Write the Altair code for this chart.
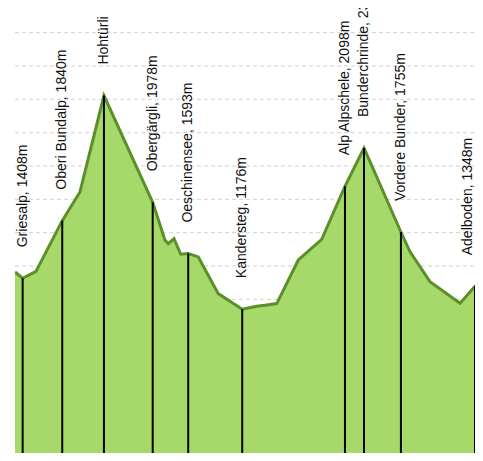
import altair as alt
import pandas as pd

# Elevation profile (distance in km, elevation in m)
profile_km = [0.00, 0.51, 1.40, 3.15, 4.33, 5.93, 9.18, 10.00, 10.22, 10.60, 11.05,
              11.55, 12.22, 13.55, 15.15, 16.11, 16.67, 17.45, 18.89, 20.45, 22.00,
              23.27, 25.73, 26.33, 27.67, 29.67, 30.67, 31.20]
profile_elev = [1455, 1408, 1460, 1840, 2055, 2778, 1978, 1693, 1668, 1705, 1588,
                1593, 1568, 1293, 1176, 1198, 1205, 1218, 1545, 1700, 2098,
                2385, 1755, 1608, 1383, 1220, 1348, 1320]

# Waypoints
wp_names = ["Griesalp, 1408m", "Oberi Bundalp, 1840m", "Hohtürli", "Obergärgli, 1978m",
            "Oeschinensee, 1593m", "Kandersteg, 1176m", "Alp Alpschele, 2098m",
            "Bunderchrinde, 2385m", "Vordere Bunder, 1755m", "Adelboden, 1348m"]
wp_km = [0.51, 3.15, 5.93, 9.18, 11.55, 15.15, 22.00, 23.27, 25.73, 30.67]
wp_elev = [1408, 1840, 2778, 1978, 1593, 1176, 2098, 2385, 1755, 1348]

grid_values = [250, 500, 750, 1000, 1250, 1500, 1750, 2000, 2250, 2500, 2750, 3000, 3250]

W, H = 460, 441

profile = pd.DataFrame({"km": profile_km, "elev": profile_elev})
wps = pd.DataFrame({"name": wp_names, "km": wp_km, "elev": wp_elev})
grid = pd.DataFrame({"elev": grid_values})

xs = alt.Scale(domain=[0, 30.67], nice=False, zero=False)
ys = alt.Scale(domain=[97.5, 3405], nice=False, zero=False)

gridlines = alt.Chart(grid).mark_rule(
    color="#d0d0d0", strokeWidth=1, strokeDash=[4, 3]
).encode(
    y=alt.Y("elev:Q", scale=ys, axis=None),
    x=alt.value(0),
    x2=alt.value(W),
)

area = alt.Chart(profile).mark_area(
    color="#a6d96a", opacity=1, clip=True,
    line={"color": "#5b8f29", "strokeWidth": 3}
).encode(
    x=alt.X("km:Q", scale=xs, axis=None),
    y=alt.Y("elev:Q", scale=ys, axis=None),
    y2=alt.value(H),
)

rules = alt.Chart(wps).mark_rule(color="black", strokeWidth=2).encode(
    x=alt.X("km:Q", scale=xs),
    y=alt.Y("elev:Q", scale=ys),
    y2=alt.value(H),
)

text_style = dict(angle=270, align="left", dx=31, fontSize=14,
                  font="Liberation Sans", color="#111")

labels = alt.Chart(wps).transform_filter(alt.datum.km < 30).mark_text(
    baseline="middle", **text_style
).encode(
    x=alt.X("km:Q", scale=xs),
    y=alt.Y("elev:Q", scale=ys),
    text="name:N",
)

labels_edge = alt.Chart(wps).transform_filter(alt.datum.km >= 30).mark_text(
    baseline="bottom", **text_style
).encode(
    x=alt.X("km:Q", scale=xs),
    y=alt.Y("elev:Q", scale=ys),
    text="name:N",
)

chart = alt.layer(gridlines, area, rules, labels, labels_edge).properties(
    width=W, height=H,
    autosize="none",
    padding={"left": 7, "top": 4, "right": 0, "bottom": 0},
).configure_view(strokeWidth=0)

chart.save("out.html", embed_options={"renderer": "svg", "actions": False})
